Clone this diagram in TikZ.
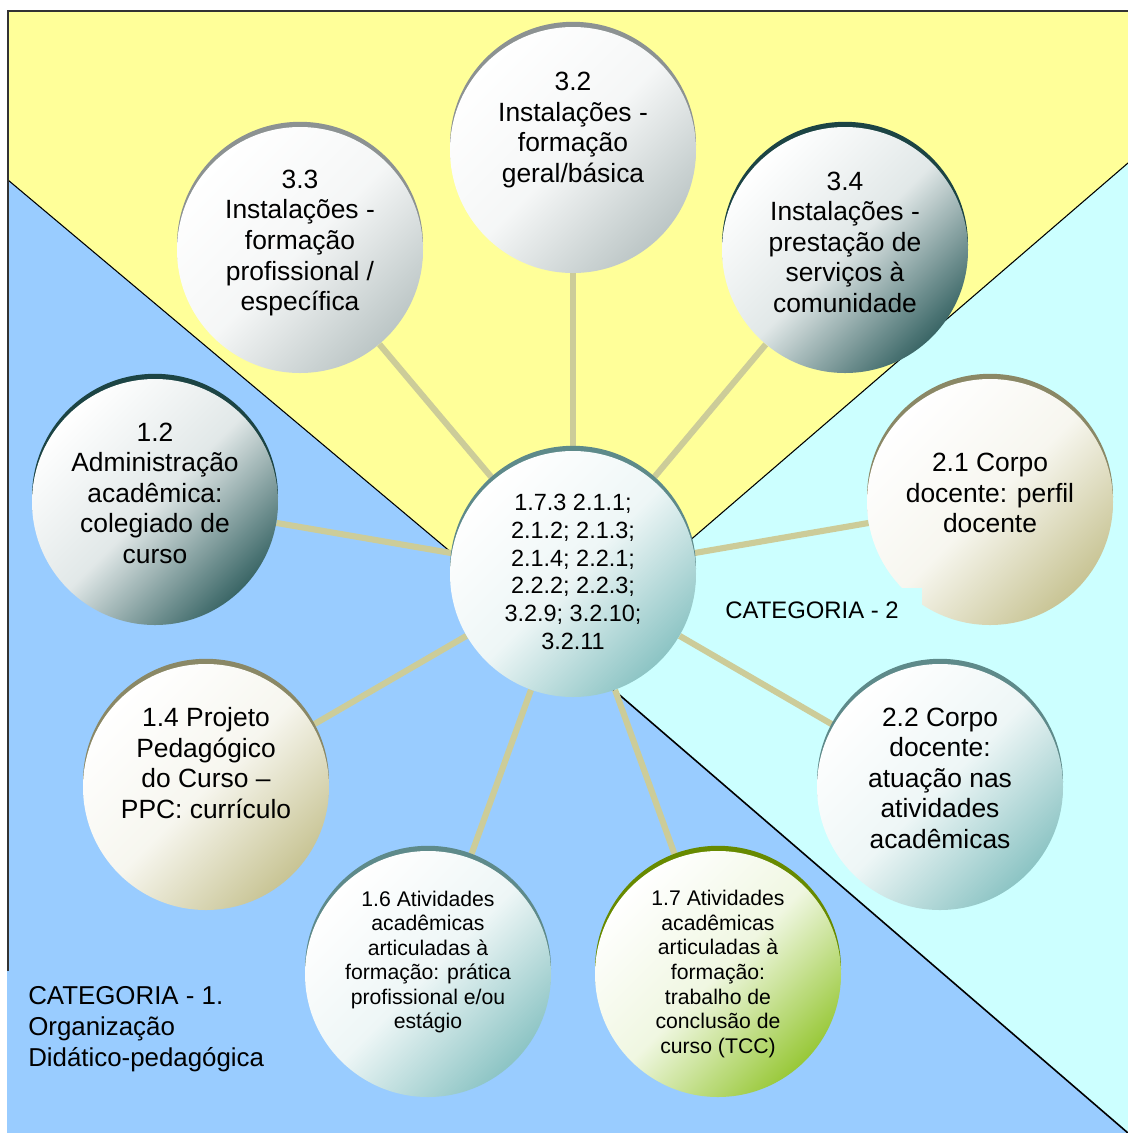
\documentclass[tikz,border=0pt]{standalone}
\usepackage{fontspec}
\setmainfont{Liberation Sans}
\usepackage{xcolor}

\definecolor{catyellow}{HTML}{FFFF99}
\definecolor{catblue}{HTML}{99CCFF}
\definecolor{catcyan}{HTML}{CCFFFF}
\definecolor{linktan}{HTML}{CCCC99}
\definecolor{framegray}{HTML}{333333}
% bubble colours: end of the gradient, and the rim on top
\definecolor{grayend}{HTML}{BCC6C6}
\definecolor{grayrim}{HTML}{8C9292}
\definecolor{slateend}{HTML}{3A6666}
\definecolor{slaterim}{HTML}{1C4444}
\definecolor{khakiend}{HTML}{C8C494}
\definecolor{khakirim}{HTML}{8A8866}
\definecolor{tealend}{HTML}{8CC4C4}
\definecolor{tealrim}{HTML}{5E8A8A}
\definecolor{greenend}{HTML}{98C838}
\definecolor{greenrim}{HTML}{678A00}

\pgfdeclarelayer{back}
\pgfdeclarelayer{links}
\pgfsetlayers{back,links,main}

\tikzset{
  bubble/.style 2 args={circle, minimum size=184.5pt, inner sep=0pt,
    preaction={fill=#2, transform canvas={yshift=3.9pt}},
    top color=white, bottom color=#1, middle color=#1!15!white, shading angle=45},
  link/.style={draw=linktan, line width=4.6pt},
  bigtxt/.style={align=center, inner sep=0pt, font=\fontsize{19.8}{22.9}\selectfont},
  ctrtxt/.style={align=center, inner sep=0pt, font=\fontsize{17.6}{20.8}\selectfont},
  smalltxt/.style={align=center, inner sep=0pt, font=\fontsize{15.9}{18.4}\selectfont},
}

\begin{document}
\begin{tikzpicture}[x=0.75pt,y=0.75pt,yscale=-1,xscale=1]
\useasboundingbox (0,0) rectangle (1128,1133);

\begin{pgfonlayer}{back}
%Shape: Polygon - categoria 3
\fill[catyellow] (8,11) -- (1128,11) -- (1128,163) -- (565,648) -- (8,180) -- cycle ;
%Shape: Polygon - categoria 2
\fill[catcyan] (1128,163) -- (565,648) -- (1128,1133) -- cycle ;
%Shape: Polygon - categoria 1
\fill[catblue] (8,180) -- (565,648) -- (1128,1133) -- (8,1133) -- cycle ;
%Straight Lines
\draw[line width=0.8pt] (8,180) -- (565,648) ;
\draw[line width=0.8pt] (1128,163) -- (565,648) ;
\draw[line width=1.2pt] (565,648) -- (1128,1133) ;
%Frame
\draw[framegray, line width=0.8pt] (8,971) -- (8,11) -- (1128,11) ;
\end{pgfonlayer}

%Shape: Circle
\node[bubble={tealend}{tealrim}] (ctr) at (573,574) {};
\node[bubble={grayend}{grayrim}] (s32) at (573,150) {};
\node[bubble={grayend}{grayrim}] (s33) at (300,250) {};
\node[bubble={slateend}{slaterim}] (s34) at (845,250) {};
\node[bubble={slateend}{slaterim}] (s12) at (155,502) {};
\node[bubble={khakiend}{khakirim}] (s21) at (990,502) {};
\node[bubble={khakiend}{khakirim}] (s14) at (206,787) {};
\node[bubble={tealend}{tealrim}] (s22) at (940,787) {};
\node[bubble={tealend}{tealrim}] (s16) at (428,974) {};
\node[bubble={greenend}{greenrim}] (s17) at (718,974) {};

\begin{pgfonlayer}{links}
\foreach \s in {s32,s33,s34,s12,s21,s14,s22,s16,s17}
  \draw[link] (ctr) -- (\s) ;
\end{pgfonlayer}

% Text Node
\node[ctrtxt] (tctr) at (573,572) {1.7.3 2.1.1;\\2.1.2; 2.1.3;\\2.1.4; 2.2.1;\\2.2.2; 2.2.3;\\3.2.9; 3.2.10;\\3.2.11};
% Text Node
\node[bigtxt] (t32) at (573,130) {3.2\\Instalações -\\formação\\geral/básica};
% Text Node
\node[bigtxt] (t33) at (300,243) {3.3\\Instalações -\\formação\\profissional /\\específica};
% Text Node
\node[bigtxt] (t34) at (845,242) {3.4\\Instalações -\\prestação de\\serviços à\\comunidade};
% Text Node
\node[bigtxt] (t12) at (155,493) {1.2\\Administração\\acadêmica:\\colegiado de\\curso};
% Text Node
\node[bigtxt] (t21) at (990,493) {2.1 Corpo\\docente: perfil\\docente};
% Text Node
\node[bigtxt] (t14) at (206,763) {1.4 Projeto\\Pedagógico\\do Curso –\\PPC: currículo};
% Text Node
\node[bigtxt] (t22) at (940,778) {2.2 Corpo\\docente:\\atuação nas\\atividades\\acadêmicas};
% Text Node
\node[smalltxt] (t16) at (428,962) {1.6 Atividades\\acadêmicas\\articuladas à\\formação: prática\\profissional e/ou\\estágio};
% Text Node
\node[smalltxt] (t17) at (718,974) {1.7 Atividades\\acadêmicas\\articuladas à\\formação:\\trabalho de\\conclusão de\\curso (TCC)};

% Text Node - categoria 2
\node[fill=catcyan, inner sep=0pt, minimum width=165pt, minimum height=33pt, font=\fontsize{17.9}{21}\selectfont] (cat2) at (812,610) {CATEGORIA - 2};
% Text Node - categoria 1
\fill[catblue] (7,971) rectangle (285,1133) ;
\node[anchor=west, align=left, inner sep=0pt, font=\fontsize{19.4}{23}\selectfont] (cat1) at (28,1029) {CATEGORIA - 1.\\Organização\\Didático-pedagógica};

\end{tikzpicture}
\end{document}
